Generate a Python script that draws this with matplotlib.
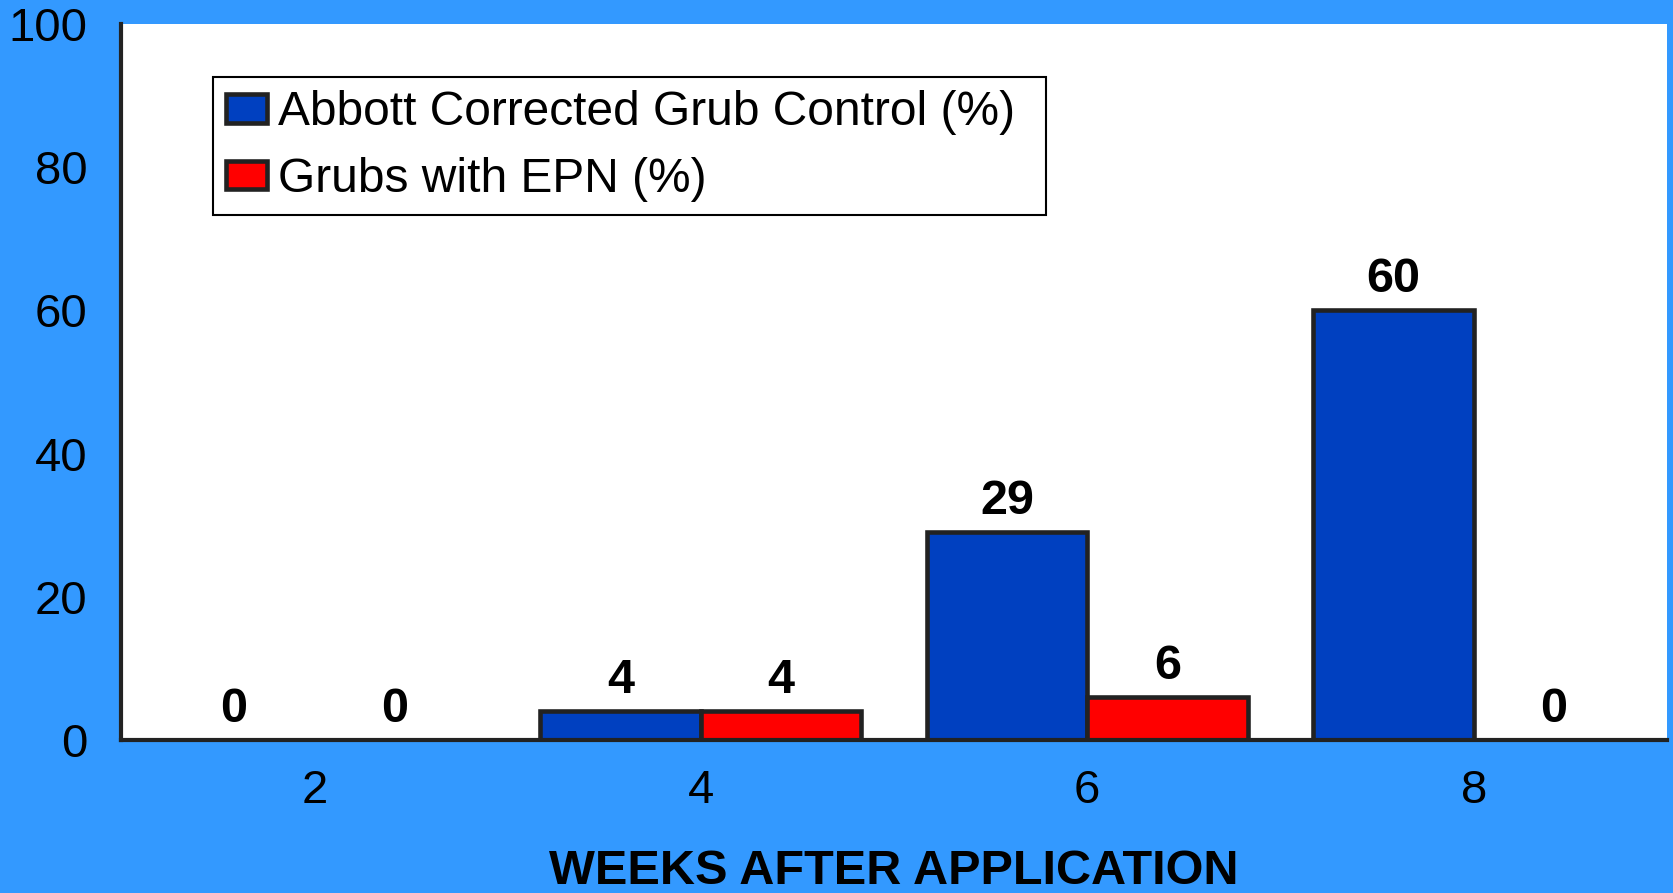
import matplotlib
matplotlib.use("Agg")
import matplotlib.pyplot as plt
import numpy as np

plt.rcParams['font.family'] = ['Liberation Sans', 'DejaVu Sans']

weeks = ['2', '4', '6', '8']
abbott = [0, 4, 29, 60]
epn = [0, 4, 6, 0]
series_names = ['Abbott Corrected Grub Control (%)', 'Grubs with EPN (%)']

bg = '#3399FF'
blue = '#0040C0'
red = '#FF0000'
edge = '#222222'

fig = plt.figure(figsize=(16.74, 8.93), dpi=100, facecolor=bg)
ax = fig.add_axes([121/1674, 1-740/893, 1546/1674, 716/893])
ax.set_facecolor('white')

x = np.arange(len(weeks))
w = 0.415
b1 = ax.bar(x - w/2, abbott, w, color=blue, edgecolor=edge, linewidth=3.3, label=series_names[0], zorder=2)
b2 = ax.bar(x + w/2, epn, w, color=red, edgecolor=edge, linewidth=3.3, label=series_names[1], zorder=2)

for bars, vals in ((b1, abbott), (b2, epn)):
    for rect, v in zip(bars, vals):
        ax.annotate(f'{v}', (rect.get_x() + rect.get_width()/2, v),
                    xytext=(0, 6), textcoords='offset points',
                    ha='center', va='bottom', fontsize=35, fontweight='bold', color='black')

ax.set_xlim(-0.5, 3.5)
ax.set_ylim(0, 100)
ax.set_yticks([0, 20, 40, 60, 80, 100])
ax.set_xticks(x)
ax.set_xticklabels(weeks)
ax.tick_params(axis='both', length=0, labelsize=34, colors='black')
ax.tick_params(axis='y', pad=24)
ax.tick_params(axis='x', pad=21)

for s in ('top', 'right'):
    ax.spines[s].set_visible(False)
for s in ('left', 'bottom'):
    ax.spines[s].set_color(edge)
    ax.spines[s].set_linewidth(3)
    ax.spines[s].set_zorder(3)

ax.set_xlabel('WEEKS AFTER APPLICATION', fontsize=35, fontweight='bold', labelpad=26)

leg = ax.legend(loc='upper left', bbox_to_anchor=(0.0595, 0.5, 0.539, 0.426), mode='expand',
                borderaxespad=0, fontsize=34.5, frameon=True, fancybox=False,
                handlelength=0.85, handleheight=0.55, handletextpad=0.22,
                borderpad=0.28, labelspacing=0.45)
fr = leg.get_frame()
fr.set_edgecolor('black')
fr.set_linewidth(1.5)
fr.set_alpha(1)

fig.savefig('out.png', dpi=100, facecolor=bg)
